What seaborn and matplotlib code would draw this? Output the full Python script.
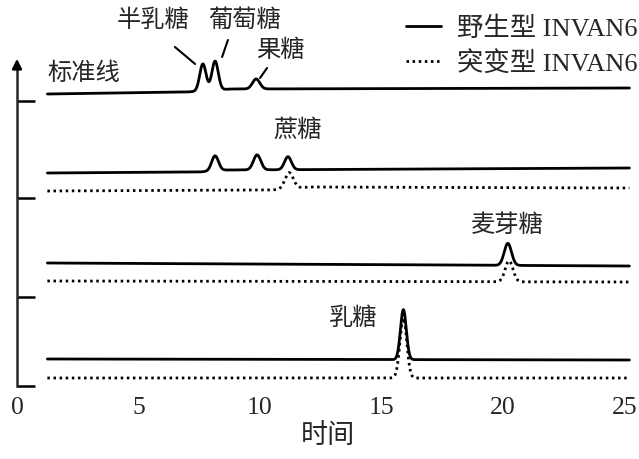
import numpy as np
import pandas as pd
import seaborn as sns
import matplotlib.pyplot as plt
from matplotlib.lines import Line2D

# 保留时间 (x) 与信号 (y, 任意单位) —— 值
t_start, t_end = 1.25, 25.2

# 标准线: 半乳糖, 葡萄糖, 果糖
std_base_t = [t_start, 7.0, 8.8, t_end]
std_base_y = [2.92, 2.94, 2.97, 2.98]
std_peak_t = [7.65, 8.15, 9.84]
std_peak_h = [0.27, 0.29, 0.10]
std_peak_w = [0.13, 0.13, 0.15]

# 蔗糖处理: 野生型 (葡萄糖, 果糖, 蔗糖) / 突变型 (蔗糖)
suc_wt_base_t = [t_start, 7.5, 8.6, t_end]
suc_wt_base_y = [2.13, 2.14, 2.16, 2.18]
suc_wt_peak_t = [8.15, 9.88, 11.15]
suc_wt_peak_h = [0.15, 0.15, 0.13]
suc_wt_peak_w = [0.14, 0.15, 0.14]

suc_mut_base_t = [t_start, 10.5, 12.0, t_end]
suc_mut_base_y = [1.95, 1.96, 1.99, 1.98]
suc_mut_peak_t = [11.2]
suc_mut_peak_h = [0.16]
suc_mut_peak_w = [0.17]

# 麦芽糖处理
mal_wt_base_t = [t_start, t_end]
mal_wt_base_y = [1.23, 1.20]
mal_wt_peak_t = [20.2]
mal_wt_peak_h = [0.22]
mal_wt_peak_w = [0.15]

mal_mut_base_t = [t_start, t_end]
mal_mut_base_y = [1.05, 1.04]
mal_mut_peak_t = [20.25]
mal_mut_peak_h = [0.21]
mal_mut_peak_w = [0.16]

# 乳糖处理
lac_wt_base_t = [t_start, t_end]
lac_wt_base_y = [0.27, 0.26]
lac_wt_peak_t = [15.9]
lac_wt_peak_h = [0.50]
lac_wt_peak_w = [0.12]

lac_mut_base_t = [t_start, t_end]
lac_mut_base_y = [0.08, 0.08]
lac_mut_peak_t = [15.9]
lac_mut_peak_h = [0.60]
lac_mut_peak_w = [0.14]

x_ticks = [0, 5, 10, 15, 20, 25]
y_ticks = [0, 0.89, 1.88, 2.85]
legend_labels = ['野生型 INVAN6', '突变型 INVAN6']


def trace(base_t, base_y, peak_t, peak_h, peak_w):
    t = np.linspace(t_start, t_end, 2000)
    y = np.interp(t, base_t, base_y)
    for c, h, w in zip(peak_t, peak_h, peak_w):
        y = y + h * np.exp(-(t - c) ** 2 / (2 * w ** 2))
    return pd.DataFrame({'时间': t, '信号': y})


sns.set_style('white')
plt.rcParams['font.family'] = ['Noto Sans CJK SC', 'DejaVu Sans']

fig = plt.figure(figsize=(6.39, 4.59), dpi=100)
ax = fig.add_axes([17 / 639, 1 - 386 / 459, 1 - 17 / 639, 386 / 459])

solid = dict(color='black', linewidth=2.0, linestyle='-')
dotted = dict(color='black', linewidth=2.0, linestyle=(0, (0.9, 1.3)))

sns.lineplot(data=trace(std_base_t, std_base_y, std_peak_t, std_peak_h, std_peak_w),
             x='时间', y='信号', ax=ax, **solid)
sns.lineplot(data=trace(suc_wt_base_t, suc_wt_base_y, suc_wt_peak_t, suc_wt_peak_h, suc_wt_peak_w),
             x='时间', y='信号', ax=ax, **solid)
sns.lineplot(data=trace(suc_mut_base_t, suc_mut_base_y, suc_mut_peak_t, suc_mut_peak_h, suc_mut_peak_w),
             x='时间', y='信号', ax=ax, **dotted)
sns.lineplot(data=trace(mal_wt_base_t, mal_wt_base_y, mal_wt_peak_t, mal_wt_peak_h, mal_wt_peak_w),
             x='时间', y='信号', ax=ax, **solid)
sns.lineplot(data=trace(mal_mut_base_t, mal_mut_base_y, mal_mut_peak_t, mal_mut_peak_h, mal_mut_peak_w),
             x='时间', y='信号', ax=ax, **dotted)
sns.lineplot(data=trace(lac_wt_base_t, lac_wt_base_y, lac_wt_peak_t, lac_wt_peak_h, lac_wt_peak_w),
             x='时间', y='信号', ax=ax, **solid)
sns.lineplot(data=trace(lac_mut_base_t, lac_mut_base_y, lac_mut_peak_t, lac_mut_peak_h, lac_mut_peak_w),
             x='时间', y='信号', ax=ax, **dotted)

ax.set_xlim(0, 622 / 24.3)
ax.set_ylim(0, 3.86)

# 坐标轴: 只留左轴 (带箭头)
for s in ['top', 'right', 'bottom']:
    ax.spines[s].set_visible(False)
ax.spines['left'].set_linewidth(1.8)
ax.spines['left'].set_bounds(0, 3.2)
ax.annotate('', xy=(0, 3.3), xytext=(0, 3.15), xycoords='data',
            arrowprops=dict(arrowstyle='-|>', color='black', lw=1.8, mutation_scale=14),
            annotation_clip=False)

ax.set_yticks(y_ticks)
ax.set_yticklabels([])
ax.tick_params(axis='y', direction='in', length=13, width=1.8, left=True, color='black')
ax.set_xticks(x_ticks)
ax.set_xticklabels([str(v) for v in x_ticks], fontfamily='Liberation Serif', fontsize=18.5)
ax.tick_params(axis='x', length=0, pad=8)
ax.set_xlabel('时间', fontsize=19.5, labelpad=2)
ax.set_ylabel('')

# 标注
txt = dict(fontsize=17.5, ha='center', va='center')
ax.text(2.76, 3.13, '标准线', **txt)
ax.text(5.6, 3.66, '半乳糖', **txt)
ax.text(9.38, 3.66, '葡萄糖', **txt)
ax.text(10.82, 3.36, '果糖', **txt)
ax.text(11.56, 2.56, '蔗糖', **txt)
ax.text(20.16, 1.61, '麦芽糖', **txt)
ax.text(13.83, 0.68, '乳糖', **txt)
ax.plot([6.5, 7.33], [3.39, 3.22], color='black', lw=1.5)
ax.plot([8.68, 8.44], [3.46, 3.29], color='black', lw=1.5)
ax.plot([10.29, 10.0], [3.18, 3.08], color='black', lw=1.5)

handles = [Line2D([], [], **solid), Line2D([], [], **dotted)]
ax.legend(handles, legend_labels, loc='upper right', bbox_to_anchor=(0.997, 0.965),
          bbox_transform=fig.transFigure, frameon=False, borderaxespad=0, borderpad=0,
          handlelength=1.3, handletextpad=0.6, labelspacing=0.38,
          prop={'family': ['Liberation Serif', 'Noto Sans CJK SC'], 'size': 19})

fig.savefig('out.png', dpi=100)
